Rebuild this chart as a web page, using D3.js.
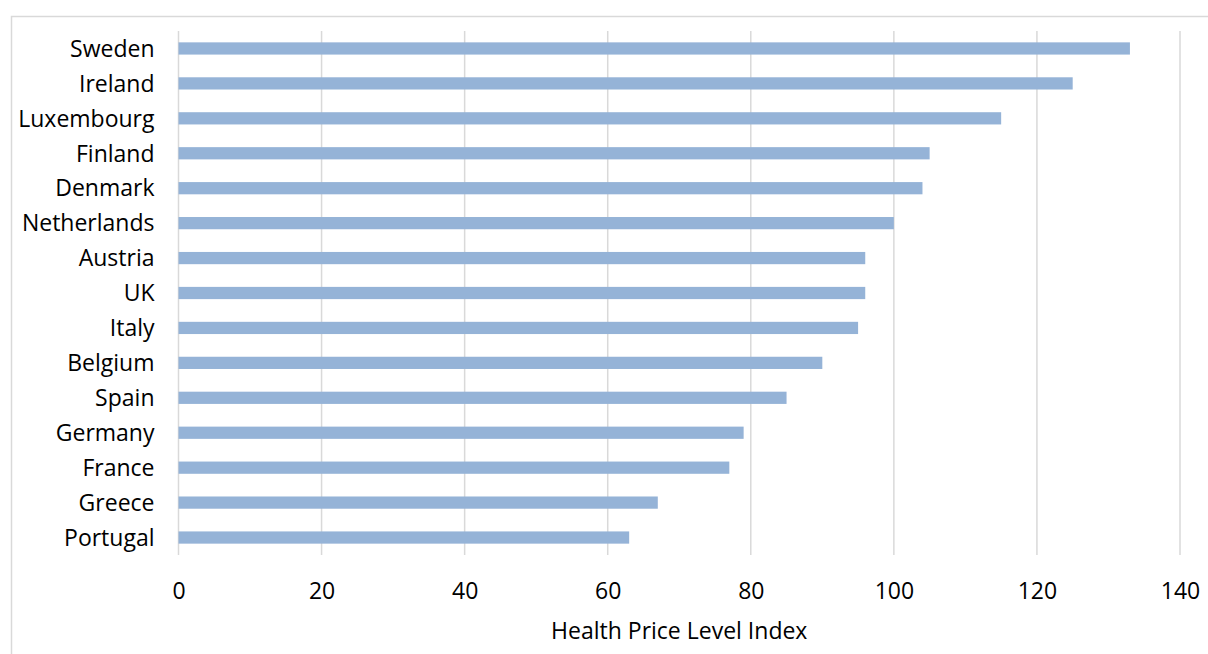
<!DOCTYPE html>
<html>
<head>
<meta charset="utf-8">
<script src="https://cdn.jsdelivr.net/npm/d3@7"></script>
<style>
	body { margin: 0; background: #fff; }
	svg { display: block; }
	text { font-family: "Open Sans", sans-serif; fill: #000; }
</style>
</head>
<body>
<div id="chart"></div>
<script>
	//chart data
	var countries = ["Sweden", "Ireland", "Luxembourg", "Finland", "Denmark", "Netherlands", "Austria",
		"UK", "Italy", "Belgium", "Spain", "Germany", "France", "Greece", "Portugal"];
	var priceIndex = [133, 125, 115, 105, 104, 100, 96, 96, 95, 90, 85, 79, 77, 67, 63];
	var xTicks = [0, 20, 40, 60, 80, 100, 120, 140];
	var xTitle = "Health Price Level Index";

	var width = 1208,
		height = 654,
		fontSize = 23,
		margin = {top: 31, right: 28, bottom: 99, left: 178.5};

	var svg = d3.select("#chart").append("svg")
		.attr("width", width)
		.attr("height", height);

	//outer frame
	svg.append("rect")
		.attr("x", 11.5).attr("y", 16.5)
		.attr("width", width).attr("height", height)
		.attr("fill", "none")
		.attr("stroke", "#d9d9d9")
		.attr("stroke-width", 1.5);

	var x = d3.scaleLinear()
		.domain([0, 140])
		.range([margin.left, width - margin.right]);

	var y = d3.scaleBand()
		.domain(countries)
		.range([margin.top, height - margin.bottom])
		.paddingInner(0.65)
		.paddingOuter(0.325);

	//gridlines
	svg.append("g")
		.selectAll("line")
		.data(xTicks)
		.enter()
		.append("line")
		.attr("x1", function(d){ return x(d); })
		.attr("x2", function(d){ return x(d); })
		.attr("y1", margin.top)
		.attr("y2", height - margin.bottom)
		.attr("stroke", "#d9d9d9")
		.attr("stroke-width", 1.5);

	//bars
	svg.append("g")
		.selectAll("rect")
		.data(priceIndex)
		.enter()
		.append("rect")
		.attr("x", x(0))
		.attr("y", function(d, i){ return y(countries[i]); })
		.attr("width", function(d){ return x(d) - x(0); })
		.attr("height", y.bandwidth())
		.attr("fill", "#95b3d7");

	//x axis labels
	var xAxis = d3.axisBottom(x)
		.tickValues(xTicks)
		.tickSize(0)
		.tickPadding(28);

	var gx = svg.append("g")
		.attr("transform", "translate(0," + (height - margin.bottom) + ")")
		.call(xAxis);
	gx.select(".domain").remove();
	gx.selectAll("text")
		.attr("font-family", "'Open Sans', sans-serif")
		.attr("font-size", fontSize)
		.attr("fill", "#000");

	//y axis labels
	var yAxis = d3.axisLeft(y)
		.tickSize(0)
		.tickPadding(24);

	var gy = svg.append("g")
		.attr("transform", "translate(" + x(0) + ",0)")
		.call(yAxis);
	gy.select(".domain").remove();
	gy.selectAll("text")
		.attr("font-family", "'Open Sans', sans-serif")
		.attr("font-size", fontSize)
		.attr("fill", "#000")
		.attr("dy", "0.36em");

	//axis title
	svg.append("text")
		.attr("x", (x(0) + x(140)) / 2)
		.attr("y", 639)
		.attr("text-anchor", "middle")
		.attr("font-size", fontSize)
		.text(xTitle);
</script>
</body>
</html>
